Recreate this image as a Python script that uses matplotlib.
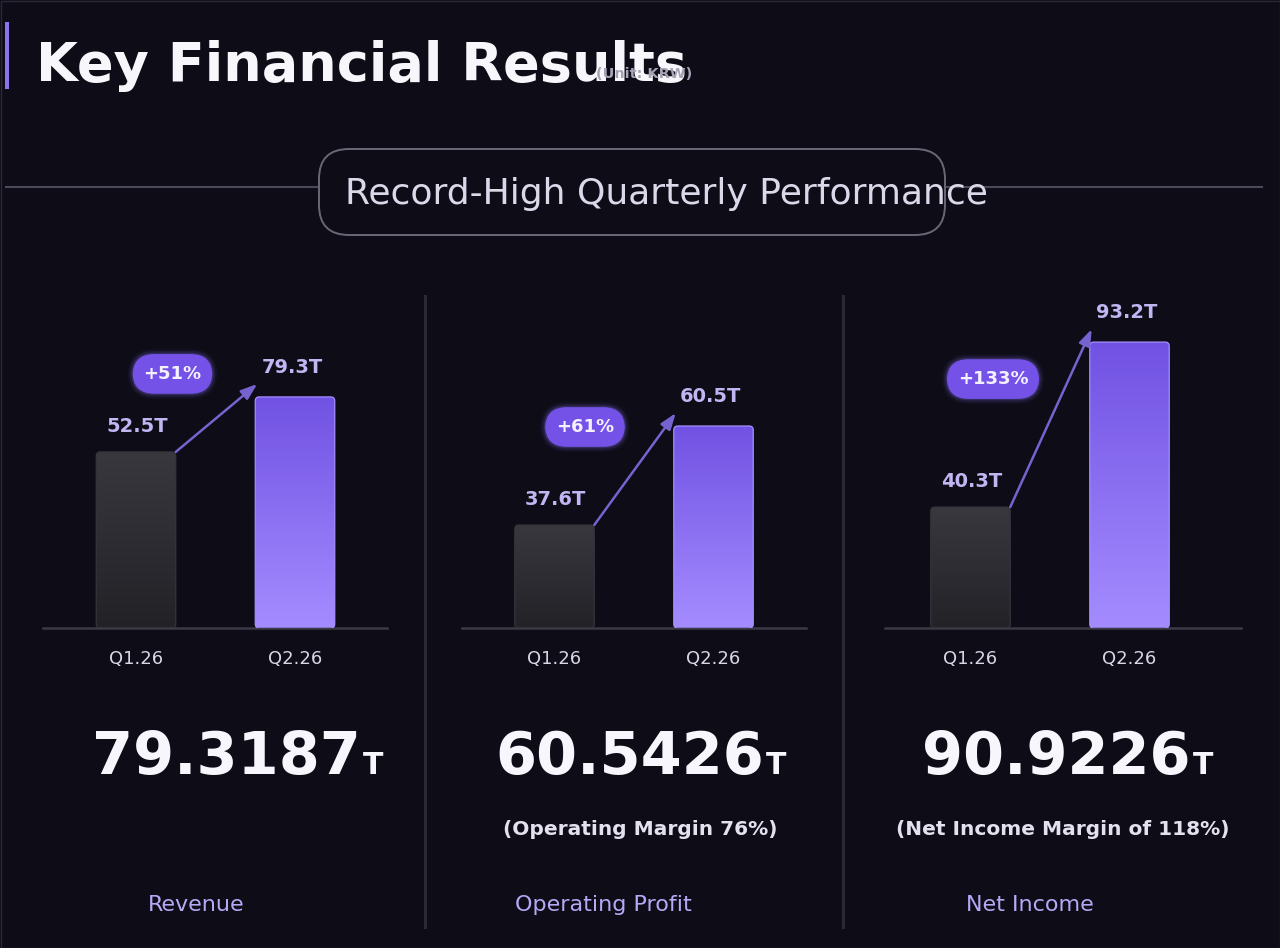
import numpy as np
import matplotlib
matplotlib.use('Agg')
import matplotlib.pyplot as plt
from matplotlib.patches import FancyBboxPatch, Rectangle
from matplotlib.colors import LinearSegmentedColormap
from matplotlib.transforms import offset_copy

# data
quarters = ['Q1.26', 'Q2.26']
revenue = [52.5, 79.3]
op_profit = [37.6, 60.5]
net_income = [40.3, 93.2]
growth = ['+51%', '+61%', '+133%']
headline = ['79.3187', '60.5426', '90.9226']
notes = ['', '(Operating Margin 76%)', '(Net Income Margin of 118%)']
names = ['Revenue', 'Operating Profit', 'Net Income']
series = [revenue, op_profit, net_income]

BG = '#0d0c17'
W, H = 1280, 948

fig = plt.figure(figsize=(12.8, 9.48), dpi=100, facecolor=BG)
ov = fig.add_axes([0, 0, 1, 1], zorder=0)
ov.set_xlim(0, W)
ov.set_ylim(H, 0)
ov.axis('off')

# frame, title
ov.add_patch(Rectangle((0.5, 0.5), W - 1, H - 1, fc='none', ec='#2a2936', lw=1))
ov.add_patch(Rectangle((5, 22), 4, 67, fc='#8b74ee', ec='none'))
ov.text(36, 81, 'Key Financial Results', fontsize=39, fontweight='bold',
        color='#f7f6fb', va='baseline')
ov.text(596, 78, '(Unit: KRW)', fontsize=10.4, fontweight='bold',
        color='#a6a3b5', va='baseline')

# subtitle pill
ov.plot([6, 1262], [187, 187], color='#4b4958', lw=1.5)
ov.add_patch(FancyBboxPatch((319, 149), 626, 86,
                            boxstyle='round,pad=0,rounding_size=30',
                            fc=BG, ec='#6a6777', lw=1.4, zorder=3))
ov.text(345, 204, 'Record-High Quarterly Performance', fontsize=26,
        color='#dcd8ea', va='baseline', zorder=4)

# dividers
for xd in (425, 843):
    ov.plot([xd, xd], [296, 927], color='#2a2934', lw=2.2)

dark_cmap = LinearSegmentedColormap.from_list('dark', ['#232227', '#39383f'])
purple_cmap = LinearSegmentedColormap.from_list('purple', ['#a48cff', '#7152e3'])
grad = np.linspace(0, 1, 256).reshape(-1, 1)

# panel layout: left px, right px, first bar centre px, y limits, pill shift (px)
layout = [(43, 387, 136, (-33.3, 131.4), (-44, 44)),
          (462, 806, 554.5, (13.77, 91.96), (-50, 42)),
          (885, 1241, 970.5, (1.51, 109.9), (-58, 39))]
top_px, base_px, step = 290, 628, 159
bw = 0.5

for i, (L, R, c0, (lo, hi), shift) in enumerate(layout):
    vals = series[i]
    ax = fig.add_axes([L / W, (H - base_px) / H, (R - L) / W, (base_px - top_px) / H],
                      zorder=1)
    ax.patch.set_alpha(0)
    ax.set_xlim((L - c0) / step, (R - c0) / step)
    ax.set_ylim(lo, hi)
    for s in ('top', 'left', 'right'):
        ax.spines[s].set_visible(False)
    ax.spines['bottom'].set_color('#3a3945')
    ax.spines['bottom'].set_linewidth(1.8)
    ax.set_yticks([])
    ax.set_xticks([0, 1], quarters)
    ax.tick_params(axis='x', length=0, pad=16, labelsize=13, labelcolor='#d9d6e6')

    o = ax.transData.transform((0, 0))
    px_x = ax.transData.transform((1, 0))[0] - o[0]
    px_y = ax.transData.transform((0, 1))[1] - o[1]

    for j, v in enumerate(vals):
        x0 = j - bw / 2
        im = ax.imshow(grad, cmap=dark_cmap if j == 0 else purple_cmap,
                       extent=(x0, x0 + bw, lo, v), origin='lower',
                       aspect='auto', zorder=2)
        bar = FancyBboxPatch((x0, lo), bw, v - lo,
                             boxstyle='round,pad=0,rounding_size=%f' % (4 / px_x),
                             mutation_aspect=px_x / px_y, fc='none',
                             ec='#35343c' if j == 0 else '#a48eff', lw=0.9, zorder=3)
        ax.add_patch(bar)
        im.set_clip_path(bar)
        ax.annotate(f'{v}T', xy=(j, v), xytext=((1, 20), (-3, 24))[j],
                    textcoords='offset pixels', ha='center', va='baseline',
                    fontsize=14, fontweight='bold', color='#c1b5f2', zorder=4)
    ax.set_xlim((L - c0) / step, (R - c0) / step)
    ax.set_ylim(lo, hi)

    # growth arrow
    tip = offset_copy(ax.transData, fig=fig, x=2, y=13, units='dots')
    ax.annotate('', xy=(1 - bw / 2, vals[1]), xycoords=tip,
                xytext=(bw / 2, vals[0]), textcoords='data',
                arrowprops=dict(arrowstyle='-|>,head_length=0.7,head_width=0.25',
                                color='#7763cf', lw=1.8,
                                mutation_scale=14, shrinkA=0, shrinkB=0),
                annotation_clip=False, zorder=4)

    # growth pill, placed from the arrow midpoint
    s = ax.transData.transform((bw / 2, vals[0]))
    t = ax.transData.transform((1 - bw / 2, vals[1])) + np.array([2, 13])
    off = (t - s) / 2 + np.array(shift)
    for pad, a in ((0.88, 0.05), (0.78, 0.10), (0.68, 0.20)):
        ax.annotate(growth[i], xy=(bw / 2, vals[0]), xytext=off,
                    textcoords='offset pixels', ha='center', va='center',
                    fontsize=13, fontweight='bold', color='none',
                    bbox=dict(boxstyle='round,pad=%.2f,rounding_size=%.2f' % (pad, 1.2 + pad - 0.6),
                              fc='#8f74ff', ec='none', alpha=a),
                    annotation_clip=False, zorder=5)
    ax.annotate(growth[i], xy=(bw / 2, vals[0]), xytext=off,
                textcoords='offset pixels', ha='center', va='center',
                fontsize=13, fontweight='bold', color='#f4f1ff',
                bbox=dict(boxstyle='round,pad=0.6,rounding_size=1.2',
                          fc='#7452e8', ec='none'),
                annotation_clip=False, zorder=6)

# headline numbers
renderer = fig.canvas.get_renderer()
num_x = [92, 495, 922]
note_x = [0, 640, 1063]
name_x = [196, 603, 1030]
for i in range(3):
    t = ov.text(num_x[i], 774, headline[i], fontsize=42.5, fontweight='bold',
                color='#f7f6fc', va='baseline')
    bb = t.get_window_extent(renderer=renderer)
    ov.annotate('T', xy=(num_x[i], 774), xytext=(bb.width + 2, 0),
                textcoords='offset pixels', fontsize=21.5, fontweight='bold',
                color='#f7f6fc', va='baseline')
    if notes[i]:
        ov.text(note_x[i], 835, notes[i], fontsize=14.5, fontweight='bold',
                color='#e4e1ef', ha='center', va='baseline')
    ov.text(name_x[i], 911, names[i], fontsize=16, color='#b7a8f6',
            ha='center', va='baseline')

fig.savefig('out.png', dpi=100, facecolor=BG)
